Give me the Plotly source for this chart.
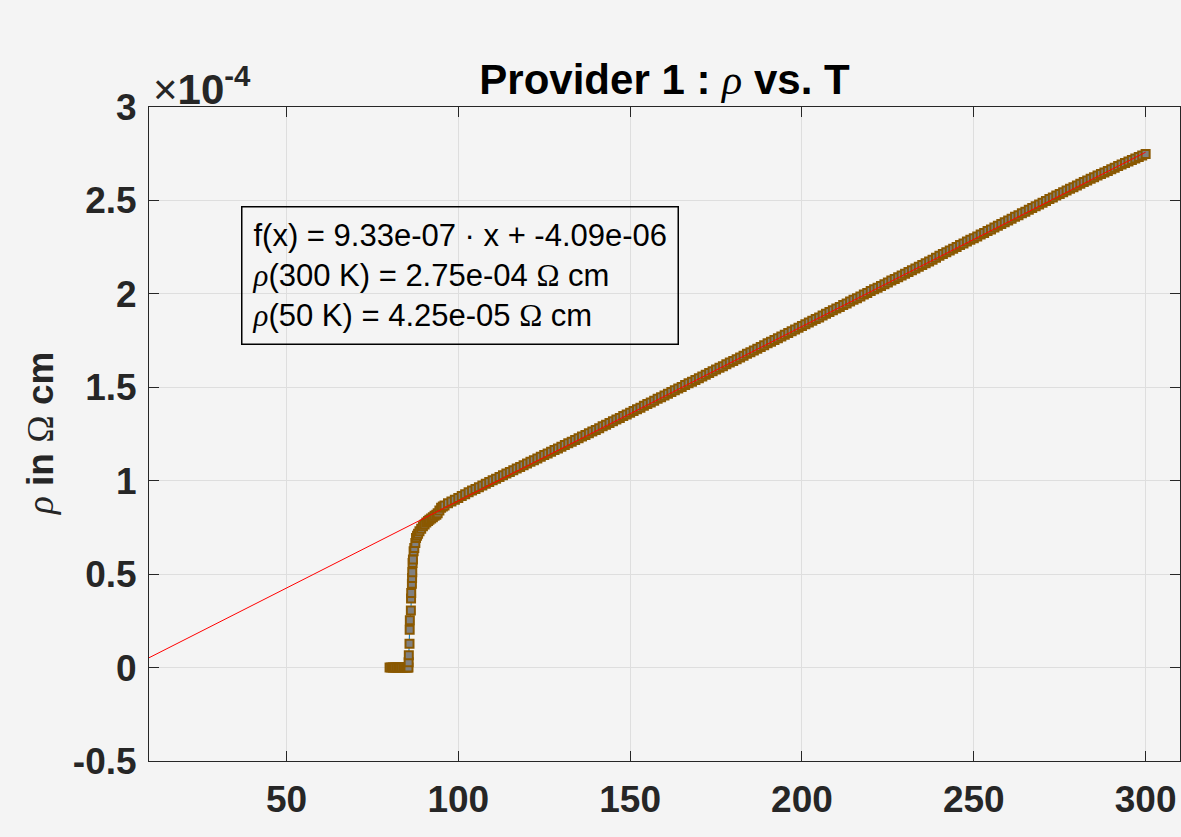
import plotly.graph_objects as go

# ---- data (temperature in K, resistivity in units of 1e-4 Ohm cm) ----
T_K = [80.0, 80.5, 81.0, 81.5, 82.0, 82.5, 83.0, 83.5, 84.0, 84.5, 85.0, 85.3, 85.5,
       85.55, 85.6, 85.8, 85.85, 85.9, 86.2, 86.25, 86.3, 86.5, 86.55, 86.6, 86.7, 86.8,
       87.0, 87.2, 87.5, 87.7, 88.0, 88.3, 88.7, 89.2, 89.7, 90.2, 90.7, 91.2, 91.6,
       92.1, 92.6, 93.1, 93.6, 94.0, 94.5, 95.0, 95.5,
       96, 97, 98, 99, 100, 101, 102, 103, 104, 105,
       106, 107, 108, 109, 110, 111, 112, 113, 114, 115,
       116, 117, 118, 119, 120, 121, 122, 123, 124, 125,
       126, 127, 128, 129, 130, 131, 132, 133, 134, 135,
       136, 137, 138, 139, 140, 141, 142, 143, 144, 145,
       146, 147, 148, 149, 150, 151, 152, 153, 154, 155,
       156, 157, 158, 159, 160, 161, 162, 163, 164, 165,
       166, 167, 168, 169, 170, 171, 172, 173, 174, 175,
       176, 177, 178, 179, 180, 181, 182, 183, 184, 185,
       186, 187, 188, 189, 190, 191, 192, 193, 194, 195,
       196, 197, 198, 199, 200, 201, 202, 203, 204, 205,
       206, 207, 208, 209, 210, 211, 212, 213, 214, 215,
       216, 217, 218, 219, 220, 221, 222, 223, 224, 225,
       226, 227, 228, 229, 230, 231, 232, 233, 234, 235,
       236, 237, 238, 239, 240, 241, 242, 243, 244, 245,
       246, 247, 248, 249, 250, 251, 252, 253, 254, 255,
       256, 257, 258, 259, 260, 261, 262, 263, 264, 265,
       266, 267, 268, 269, 270, 271, 272, 273, 274, 275,
       276, 277, 278, 279, 280, 281, 282, 283, 284, 285,
       286, 287, 288, 289, 290, 291, 292, 293, 294, 295,
       296, 297, 298, 299, 300]
rho_1e4 = [0, 0, 0, 0, 0, 0, 0, 0, 0, 0, 0, 0, 0,
           0.028, 0.066, 0.128, 0.203, 0.253, 0.305, 0.369, 0.399, 0.449, 0.480, 0.510, 0.560, 0.578,
           0.622, 0.640, 0.667, 0.693, 0.705, 0.716, 0.729, 0.743, 0.756, 0.766, 0.776, 0.784, 0.791,
           0.798, 0.805, 0.812, 0.818, 0.826, 0.840, 0.855, 0.862,
           0.868, 0.879, 0.889, 0.898, 0.908, 0.918, 0.928, 0.938, 0.947, 0.956,
           0.965, 0.975, 0.984, 0.993, 1.002, 1.011, 1.020, 1.029, 1.038, 1.047,
           1.056, 1.065, 1.074, 1.083, 1.092, 1.101, 1.110, 1.119, 1.128, 1.137,
           1.146, 1.155, 1.164, 1.173, 1.182, 1.191, 1.200, 1.209, 1.218, 1.227,
           1.236, 1.245, 1.254, 1.263, 1.272, 1.281, 1.291, 1.300, 1.309, 1.318,
           1.327, 1.336, 1.346, 1.355, 1.364, 1.373, 1.382, 1.391, 1.401, 1.410,
           1.419, 1.428, 1.438, 1.447, 1.456, 1.465, 1.475, 1.484, 1.493, 1.502,
           1.512, 1.521, 1.530, 1.539, 1.549, 1.558, 1.567, 1.576, 1.586, 1.595,
           1.604, 1.613, 1.623, 1.632, 1.641, 1.650, 1.660, 1.669, 1.679, 1.688,
           1.697, 1.706, 1.716, 1.725, 1.735, 1.744, 1.753, 1.762, 1.772, 1.781,
           1.791, 1.800, 1.809, 1.818, 1.828, 1.837, 1.847, 1.856, 1.865, 1.874,
           1.884, 1.893, 1.903, 1.912, 1.921, 1.930, 1.940, 1.949, 1.959, 1.968,
           1.977, 1.986, 1.996, 2.005, 2.015, 2.024, 2.033, 2.042, 2.052, 2.061,
           2.071, 2.080, 2.089, 2.098, 2.108, 2.117, 2.127, 2.136, 2.145, 2.154,
           2.164, 2.173, 2.183, 2.193, 2.204, 2.213, 2.223, 2.232, 2.242, 2.251,
           2.261, 2.270, 2.280, 2.289, 2.298, 2.307, 2.317, 2.326, 2.336, 2.345,
           2.355, 2.364, 2.374, 2.383, 2.393, 2.402, 2.412, 2.421, 2.431, 2.440,
           2.450, 2.459, 2.469, 2.478, 2.488, 2.497, 2.507, 2.516, 2.526, 2.535,
           2.544, 2.553, 2.562, 2.571, 2.580, 2.589, 2.598, 2.607, 2.616, 2.624,
           2.633, 2.641, 2.650, 2.658, 2.667, 2.675, 2.684, 2.692, 2.700, 2.708,
           2.716, 2.724, 2.732, 2.740, 2.748]

# linear fit f(x) = slope * x + intercept  (Ohm cm), drawn over this T range
fit_slope = 9.33e-07
fit_intercept = -4.09e-06
fit_T = [10, 300]
fit_rho_1e4 = [(fit_slope * t + fit_intercept) * 1e4 for t in fit_T]

x_ticks = [50, 100, 150, 200, 250, 300]
y_ticks = [-0.5, 0, 0.5, 1, 1.5, 2, 2.5, 3]
y_ticklabels = ["-0.5", "0", "0.5", "1", "1.5", "2", "2.5", "3"]

BG = "#f4f4f4"
AX = "#262626"
SANS = "Liberation Sans, Arial"
SERIF = "'Liberation Serif', 'Times New Roman', serif"

fig = go.Figure()
fig.add_trace(go.Scatter(
    x=T_K, y=rho_1e4, mode="lines+markers",
    line=dict(color="#0072bd", width=1),
    marker=dict(symbol="square", size=8, color="#808080",
                line=dict(color="#8a5800", width=2)),
    showlegend=False))
fig.add_trace(go.Scatter(
    x=fit_T, y=fit_rho_1e4, mode="lines",
    line=dict(color="#ff0000", width=1), showlegend=False))

axis_common = dict(
    showline=True, linecolor=AX, linewidth=1, mirror="ticks",
    ticks="inside", ticklen=10, tickcolor=AX, tickwidth=1,
    showgrid=True, gridcolor="#dedede", gridwidth=1, zeroline=False,
    tickfont=dict(family=SANS, size=37, color=AX, weight="bold"),
)

fig.update_layout(
    width=1181, height=837,
    paper_bgcolor=BG, plot_bgcolor=BG,
    margin=dict(l=149, r=1, t=107, b=76),
    title=dict(
        text=f"Provider 1 : <span style=\"font-family:{SERIF};font-style:italic;font-weight:normal\">ρ</span> vs. T",
        font=dict(family=SANS, size=42, color="#000000", weight="bold"),
        x=0.5, xref="paper", xanchor="center", y=1 - 79 / 837, yref="container", yanchor="middle"),
    xaxis=dict(range=[10, 310], tickvals=x_ticks, ticktext=[str(v) for v in x_ticks],
               ticklabelstandoff=6, **axis_common),
    yaxis=dict(range=[-0.5, 3], tickvals=y_ticks, ticktext=y_ticklabels,
               ticklabelstandoff=4, **axis_common),
)

annot_text = (
    "f(x) = 9.33e-07 · x + -4.09e-06<br>"
    f"<span style=\"font-family:{SERIF};font-style:italic\">ρ</span>(300 K) = 2.75e-04 "
    f"<span style=\"font-family:{SERIF}\">Ω</span> cm<br>"
    f"<span style=\"font-family:{SERIF};font-style:italic\">ρ</span>(50 K) = 4.25e-05 "
    f"<span style=\"font-family:{SERIF}\">Ω</span> cm"
)
fig.add_annotation(
    text=annot_text, xref="paper", yref="paper",
    x=(241 - 149) / 1031, y=(761 - 206) / 654, xanchor="left", yanchor="top",
    align="left", showarrow=False,
    font=dict(family=SANS, size=31, color="#000000"),
    bordercolor="#000000", borderwidth=1.5, borderpad=10, bgcolor="rgba(0,0,0,0)")

fig.add_annotation(
    text=f"<span style=\"font-family:{SERIF};font-style:italic;font-weight:normal\">ρ</span> in "
         f"<span style=\"font-family:{SERIF};font-weight:normal\">Ω</span> cm",
    xref="paper", yref="paper", x=(40 - 149) / 1031, y=0.5,
    xanchor="center", yanchor="middle", textangle=-90, showarrow=False,
    font=dict(family=SANS, size=37, color=AX, weight="bold"))

fig.add_annotation(
    text="<span style=\"font-weight:normal\">×</span>10<sup>-4</sup>",
    xref="paper", yref="paper", x=(151 - 149) / 1031, y=(761 - 86) / 654,
    xanchor="left", yanchor="middle", showarrow=False,
    font=dict(family=SANS, size=42, color=AX, weight="bold"))

fig.write_html("out.html", config={"displayModeBar": False},
               post_script="document.body.style.margin='0';")
